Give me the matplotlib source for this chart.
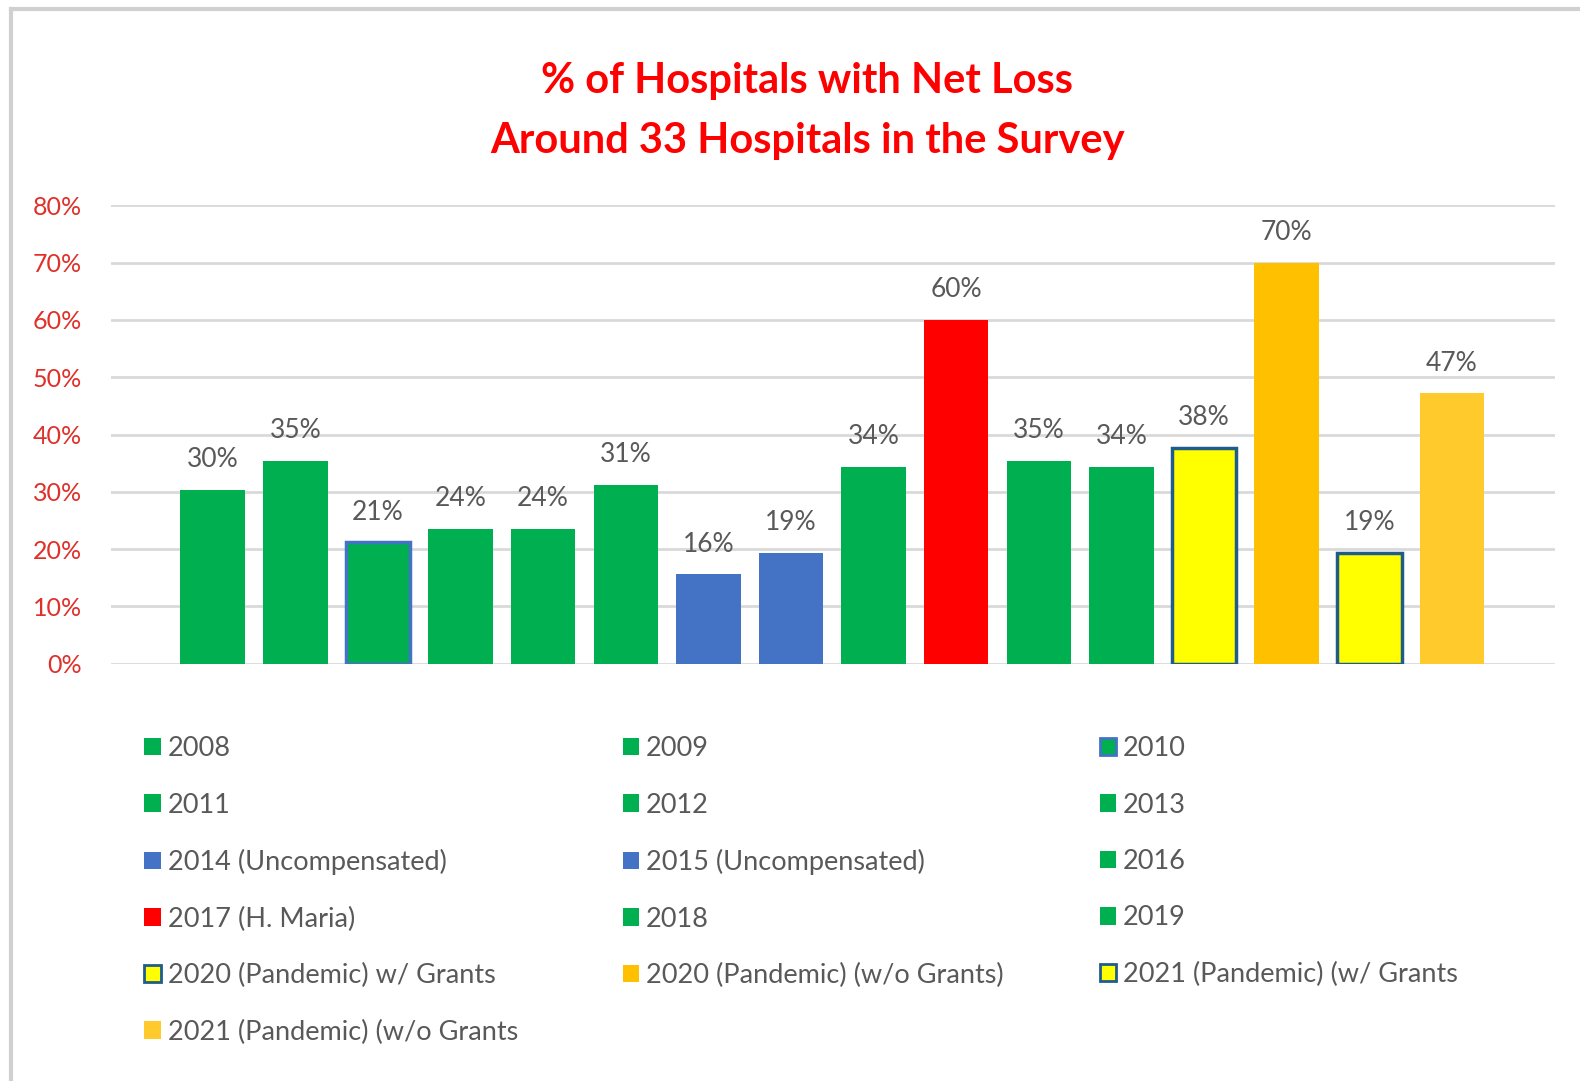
import matplotlib
matplotlib.use('Agg')
import matplotlib.pyplot as plt
from matplotlib.patches import Patch
from matplotlib.lines import Line2D

plt.rcParams['font.family'] = ['Lato', 'DejaVu Sans']

# ── Data ──
labels = ['2008', '2009', '2010', '2011', '2012', '2013',
          '2014 (Uncompensated)', '2015 (Uncompensated)', '2016',
          '2017 (H. Maria)', '2018', '2019',
          '2020 (Pandemic) w/ Grants', '2020 (Pandemic) (w/o Grants)',
          '2021 (Pandemic) (w/ Grants', '2021 (Pandemic) (w/o Grants']
values = [0.303, 0.354, 0.212, 0.236, 0.236, 0.312, 0.156, 0.194,
          0.344, 0.600, 0.354, 0.344, 0.377, 0.700, 0.194, 0.472]
face = ['#00B050', '#00B050', '#00B050', '#00B050', '#00B050', '#00B050',
        '#4472C4', '#4472C4', '#00B050', '#FF0000', '#00B050', '#00B050',
        '#FFFF00', '#FFC000', '#FFFF00', '#FFCA2C']
edge = [None, None, '#4472C4', None, None, None, None, None, None, None,
        None, None, '#1F5C8B', None, '#1F5C8B', None]
yticks = [0, 0.1, 0.2, 0.3, 0.4, 0.5, 0.6, 0.7, 0.8]

GRAY = '#595959'

fig = plt.figure(figsize=(15.8, 10.81), dpi=100)
ax = fig.add_axes([0.0703, 0.386, 0.914, 0.424])

for i, v in enumerate(values):
    if edge[i]:
        ax.bar(i, v, width=0.78, color=face[i], edgecolor=edge[i], linewidth=2.5, zorder=3)
    else:
        ax.bar(i, v, width=0.78, color=face[i], linewidth=0, zorder=3)
    ax.text(i, v + 0.031, '{:.0f}%'.format(v * 100), ha='center', va='bottom',
            fontsize=19, color=GRAY)

ax.set_xlim(-1.23, 16.25)
ax.set_ylim(0, 0.8)
ax.set_yticks(yticks)
ax.set_yticklabels(['{:.0f}%'.format(t * 100) for t in yticks], color='#E0302A', fontsize=18)
ax.set_xticks([])
ax.tick_params(axis='y', length=0, pad=21)
ax.grid(axis='y', color='#D9D9D9', lw=2, zorder=0)
for s in ax.spines.values():
    s.set_visible(False)

# ── Title ──
fig.text(0.511, 0.925, '% of Hospitals with Net Loss', ha='center', va='center',
         fontsize=30, fontweight='bold', color='#FF0000')
fig.text(0.511, 0.870, 'Around 33 Hospitals in the Survey', ha='center', va='center',
         fontsize=30, fontweight='bold', color='#FF0000')

# ── Legend, filled row by row in three columns ──
handles = []
for i in range(len(values)):
    if edge[i]:
        handles.append(Patch(facecolor=face[i], edgecolor=edge[i], linewidth=2))
    else:
        handles.append(Patch(facecolor=face[i], linewidth=0))

col_x = [0.0914, 0.394, 0.696]
for c in range(3):
    leg = fig.legend(handles[c::3], labels[c::3], loc='upper left',
                     bbox_to_anchor=(col_x[c], 0.319), frameon=False, fontsize=19.5,
                     handlelength=0.62, handleheight=0.62, handletextpad=0.25,
                     labelspacing=1.16, borderpad=0, borderaxespad=0)
    for t in leg.get_texts():
        t.set_color(GRAY)

# outer frame (top and left edges)
fig.add_artist(Line2D([0.007, 1.0], [0.9915, 0.9915], color='#D0D0D0', lw=3))
fig.add_artist(Line2D([0.007, 0.007], [0.0, 0.9915], color='#D0D0D0', lw=3))

fig.savefig('out.png', dpi=100, facecolor='white')
plt.close()
